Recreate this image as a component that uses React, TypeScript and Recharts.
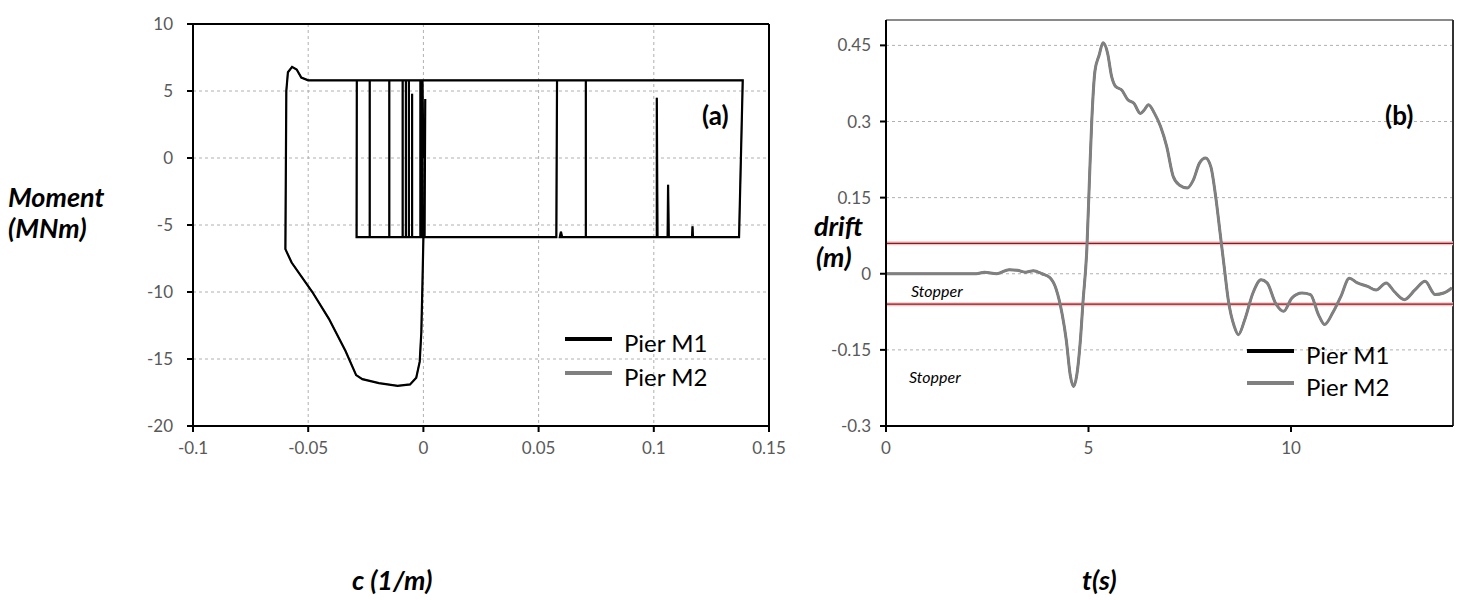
import React from "react";
import { LineChart, Line, XAxis, YAxis, CartesianGrid, ReferenceLine } from "recharts";

// ---------- (a) Moment-curvature, Pier M1 (Pier M2 overlaps) ----------
const curvatureM1 = [
  0, -0.0004, -0.05, -0.053, -0.055, -0.057, -0.0588, -0.0595, -0.0599, -0.0572, -0.0482, -0.041, -0.0338, -0.0292,
  -0.0265, -0.0193, -0.0112, -0.0058, -0.0031, -0.0016, -0.0009, -0.0004, 0, -0.029, -0.0289, -0.0233, -0.0233,
  -0.0148, -0.0148, -0.009, -0.009, -0.0076, -0.0076, -0.0063, -0.0063, -0.0049, -0.0049, -0.0049, -0.0013, -0.0013,
  -0.0004, -0.0004, 0.0005, 0.0008, 0.0005, 0.0577, 0.058, 0.0705, 0.0705, 0.0592, 0.0597, 0.0602, 0.1013, 0.1013,
  0.1016, 0.106, 0.1062, 0.1065, 0.1166, 0.1168, 0.117, 0.137, 0.1386, -0.0004,
];
const momentM1 = [
  0, 5.8, 5.8, 6.0, 6.6, 6.8, 6.4, 5.0, -6.8, -7.8, -10.0, -12.0, -14.4, -16.2,
  -16.5, -16.8, -17.0, -16.9, -16.4, -15.2, -13.0, -9.3, -5.9, -5.9, 5.8, 5.8, -5.9,
  -5.9, 5.8, 5.8, -5.9, -5.9, 5.8, 5.8, -5.9, -5.9, 4.8, -5.9, -5.9, 5.8,
  5.8, -5.9, -5.9, 4.4, -5.9, -5.9, 5.8, 5.8, -5.9, -5.9, -5.5, -5.9, -5.9, 4.5,
  -5.9, -5.9, -2.0, -5.9, -5.9, -5.1, -5.9, -5.9, 5.8, 5.8,
];
const momentM2 = momentM1;
const xTicksA = [-0.1, -0.05, 0, 0.05, 0.1, 0.15];
const yTicksA = [-20, -15, -10, -5, 0, 5, 10];

// ---------- (b) Drift time history ----------
const timeS = [
  0, 2.23, 2.43, 2.73, 3.04, 3.24, 3.44, 3.64, 3.85, 4.05, 4.2, 4.35, 4.45, 4.55, 4.63, 4.71, 4.81, 4.86, 4.96,
  5.03, 5.08, 5.16, 5.26, 5.36, 5.47, 5.57, 5.67, 5.82, 5.97, 6.12, 6.28, 6.38, 6.48, 6.63, 6.78, 6.93, 7.09,
  7.24, 7.44, 7.59, 7.74, 7.89, 8.02, 8.15, 8.25, 8.35, 8.45, 8.6, 8.7, 8.86, 9.06, 9.26, 9.41, 9.62, 9.82,
  10.02, 10.27, 10.48, 10.68, 10.83, 11.03, 11.23, 11.44, 11.64, 11.89, 12.1, 12.35, 12.55, 12.8, 13.06,
  13.31, 13.56, 13.77, 13.97,
];
const driftM2 = [
  0, 0, 0.003, 0, 0.008, 0.007, 0.003, 0.006, 0, -0.008, -0.03, -0.08, -0.13, -0.2, -0.222, -0.2, -0.12, -0.06, 0.05,
  0.2, 0.3, 0.4, 0.43, 0.455, 0.435, 0.389, 0.369, 0.362, 0.343, 0.336, 0.316, 0.323, 0.333, 0.316, 0.29, 0.251, 0.192,
  0.175, 0.169, 0.185, 0.218, 0.228, 0.211, 0.146, 0.08, 0.014, -0.051, -0.104, -0.12, -0.09, -0.038, -0.012, -0.018, -0.058, -0.074,
  -0.048, -0.038, -0.041, -0.081, -0.1, -0.077, -0.045, -0.009, -0.018, -0.025, -0.032, -0.018, -0.035, -0.051, -0.032,
  -0.015, -0.041, -0.038, -0.028,
];
const driftM1 = driftM2;
const stopperLimits = [0.06, -0.06];
const xTicksB = [0, 5, 10];
const yTicksB = [-0.3, -0.15, 0, 0.15, 0.3, 0.45];

const seriesNames = ["Pier M1", "Pier M2"];
const seriesColors = ["#000000", "#808080"];

const dataA = curvatureM1.map((c, i) => ({ c, m1: momentM1[i], m2: momentM2[i] }));
const dataB = timeS.map((t, i) => ({ t, d1: driftM1[i], d2: driftM2[i] }));

const FONT = "Lato, 'Open Sans', sans-serif";
const tickStyle = { fill: "#595959", fontSize: 17, fontFamily: FONT };

const titleStyle: React.CSSProperties = {
  position: "absolute",
  fontFamily: FONT,
  fontWeight: 700,
  fontStyle: "italic",
  fontSize: 27,
  color: "#000",
  whiteSpace: "nowrap",
  lineHeight: 1,
};

const LegendBox = ({ left, top, gap }: { left: number; top: number; gap: number }) => (
  <div style={{ position: "absolute", left, top, fontFamily: FONT, fontSize: 24, lineHeight: 1 }}>
    {seriesNames.map((n, i) => (
      <div key={n} style={{ display: "flex", alignItems: "center", height: gap }}>
        <div style={{ width: 47, height: 4, background: seriesColors[i], marginRight: 12, marginTop: -8 }} />
        <span style={{ color: "#000" }}>{n}</span>
      </div>
    ))}
  </div>
);

export default function App() {
  return (
    <div style={{ position: "absolute", left: 0, top: 0, width: 1463, height: 600, background: "#fff", overflow: "hidden" }}>
      {/* Chart (a) */}
      <div style={{ position: "absolute", left: 0, top: 0 }}>
        <LineChart width={800} height={600} data={dataA} margin={{ top: 24, right: 31, left: 133, bottom: 134 }}>
          <CartesianGrid stroke="#b0b0b0" strokeDasharray="3 3" />
          <XAxis
            dataKey="c"
            type="number"
            domain={[-0.1, 0.15]}
            ticks={xTicksA}
            height={40}
            axisLine={{ stroke: "#000", strokeWidth: 2 }}
            tickLine={{ stroke: "#000", strokeWidth: 2 }}
            tickSize={6}
            tickMargin={10}
            tick={tickStyle}
            tickFormatter={(v: number) => String(v)}
          />
          <YAxis
            type="number"
            domain={[-20, 10]}
            ticks={yTicksA}
            width={60}
            axisLine={{ stroke: "#000", strokeWidth: 2 }}
            tickLine={{ stroke: "#000", strokeWidth: 2 }}
            tickSize={6}
            tickMargin={14}
            tick={tickStyle}
          />
          <ReferenceLine y={10} stroke="#000" strokeWidth={2} />
          <ReferenceLine x={0.15} stroke="#000" strokeWidth={2} />
          <Line dataKey="m2" name={seriesNames[1]} type="linear" stroke={seriesColors[1]} strokeWidth={1.5} dot={false} isAnimationActive={false} />
          <Line dataKey="m1" name={seriesNames[0]} type="linear" stroke={seriesColors[0]} strokeWidth={2.2} dot={false} isAnimationActive={false} />
        </LineChart>
      </div>

      {/* Chart (b) */}
      <div style={{ position: "absolute", left: 800, top: 0 }}>
        <LineChart width={663} height={600} data={dataB} margin={{ top: 20, right: 10, left: 26, bottom: 134 }}>
          <CartesianGrid stroke="#b0b0b0" strokeDasharray="3 3" vertical={false} />
          <XAxis
            dataKey="t"
            type="number"
            domain={[0, 14]}
            ticks={xTicksB}
            height={40}
            axisLine={{ stroke: "#000", strokeWidth: 2 }}
            tickLine={{ stroke: "#000", strokeWidth: 2 }}
            tickSize={6}
            tickMargin={10}
            tick={tickStyle}
          />
          <YAxis
            type="number"
            domain={[-0.3, 0.5]}
            ticks={yTicksB}
            width={60}
            axisLine={{ stroke: "#000", strokeWidth: 2 }}
            tickLine={{ stroke: "#000", strokeWidth: 2 }}
            tickSize={6}
            tickMargin={9}
            tick={tickStyle}
          />
          <ReferenceLine y={0.5} stroke="#8a8a8a" strokeWidth={2} />
          <ReferenceLine x={14} stroke="#333" strokeWidth={2} />
          {stopperLimits.map((v) => (
            <ReferenceLine key={v} y={v} stroke="#f4c4c4" strokeWidth={4} />
          ))}
          {stopperLimits.map((v) => (
            <ReferenceLine key={"d" + v} y={v} stroke="#8b1a22" strokeWidth={1.2} />
          ))}
          <Line dataKey="d1" name={seriesNames[0]} type="monotone" stroke={seriesColors[0]} strokeWidth={2} dot={false} isAnimationActive={false} />
          <Line dataKey="d2" name={seriesNames[1]} type="monotone" stroke={seriesColors[1]} strokeWidth={3} dot={false} isAnimationActive={false} />
        </LineChart>
      </div>

      {/* Legends */}
      <LegendBox left={565} top={326} gap={34} />
      <LegendBox left={1247} top={339} gap={32} />

      {/* Panel labels */}
      <div style={{ ...titleStyle, fontStyle: "normal", fontSize: 26, left: 702, top: 102 }}>(a)</div>
      <div style={{ ...titleStyle, fontStyle: "normal", fontSize: 26, left: 1385, top: 102 }}>(b)</div>

      {/* Stopper labels */}
      <div style={{ position: "absolute", left: 911, top: 283, fontFamily: FONT, fontStyle: "italic", fontSize: 16, lineHeight: 1 }}>Stopper</div>
      <div style={{ position: "absolute", left: 909, top: 369, fontFamily: FONT, fontStyle: "italic", fontSize: 16, lineHeight: 1 }}>Stopper</div>

      {/* Axis titles */}
      <div style={{ ...titleStyle, left: 8, top: 183 }}>Moment</div>
      <div style={{ ...titleStyle, left: 8, top: 214 }}>(MNm)</div>
      <div style={{ ...titleStyle, left: 814, top: 212 }}>drift</div>
      <div style={{ ...titleStyle, left: 816, top: 243 }}>(m)</div>
      <div style={{ ...titleStyle, left: 352, top: 566 }}>c (1/m)</div>
      <div style={{ ...titleStyle, left: 1082, top: 566 }}>t(s)</div>
    </div>
  );
}
